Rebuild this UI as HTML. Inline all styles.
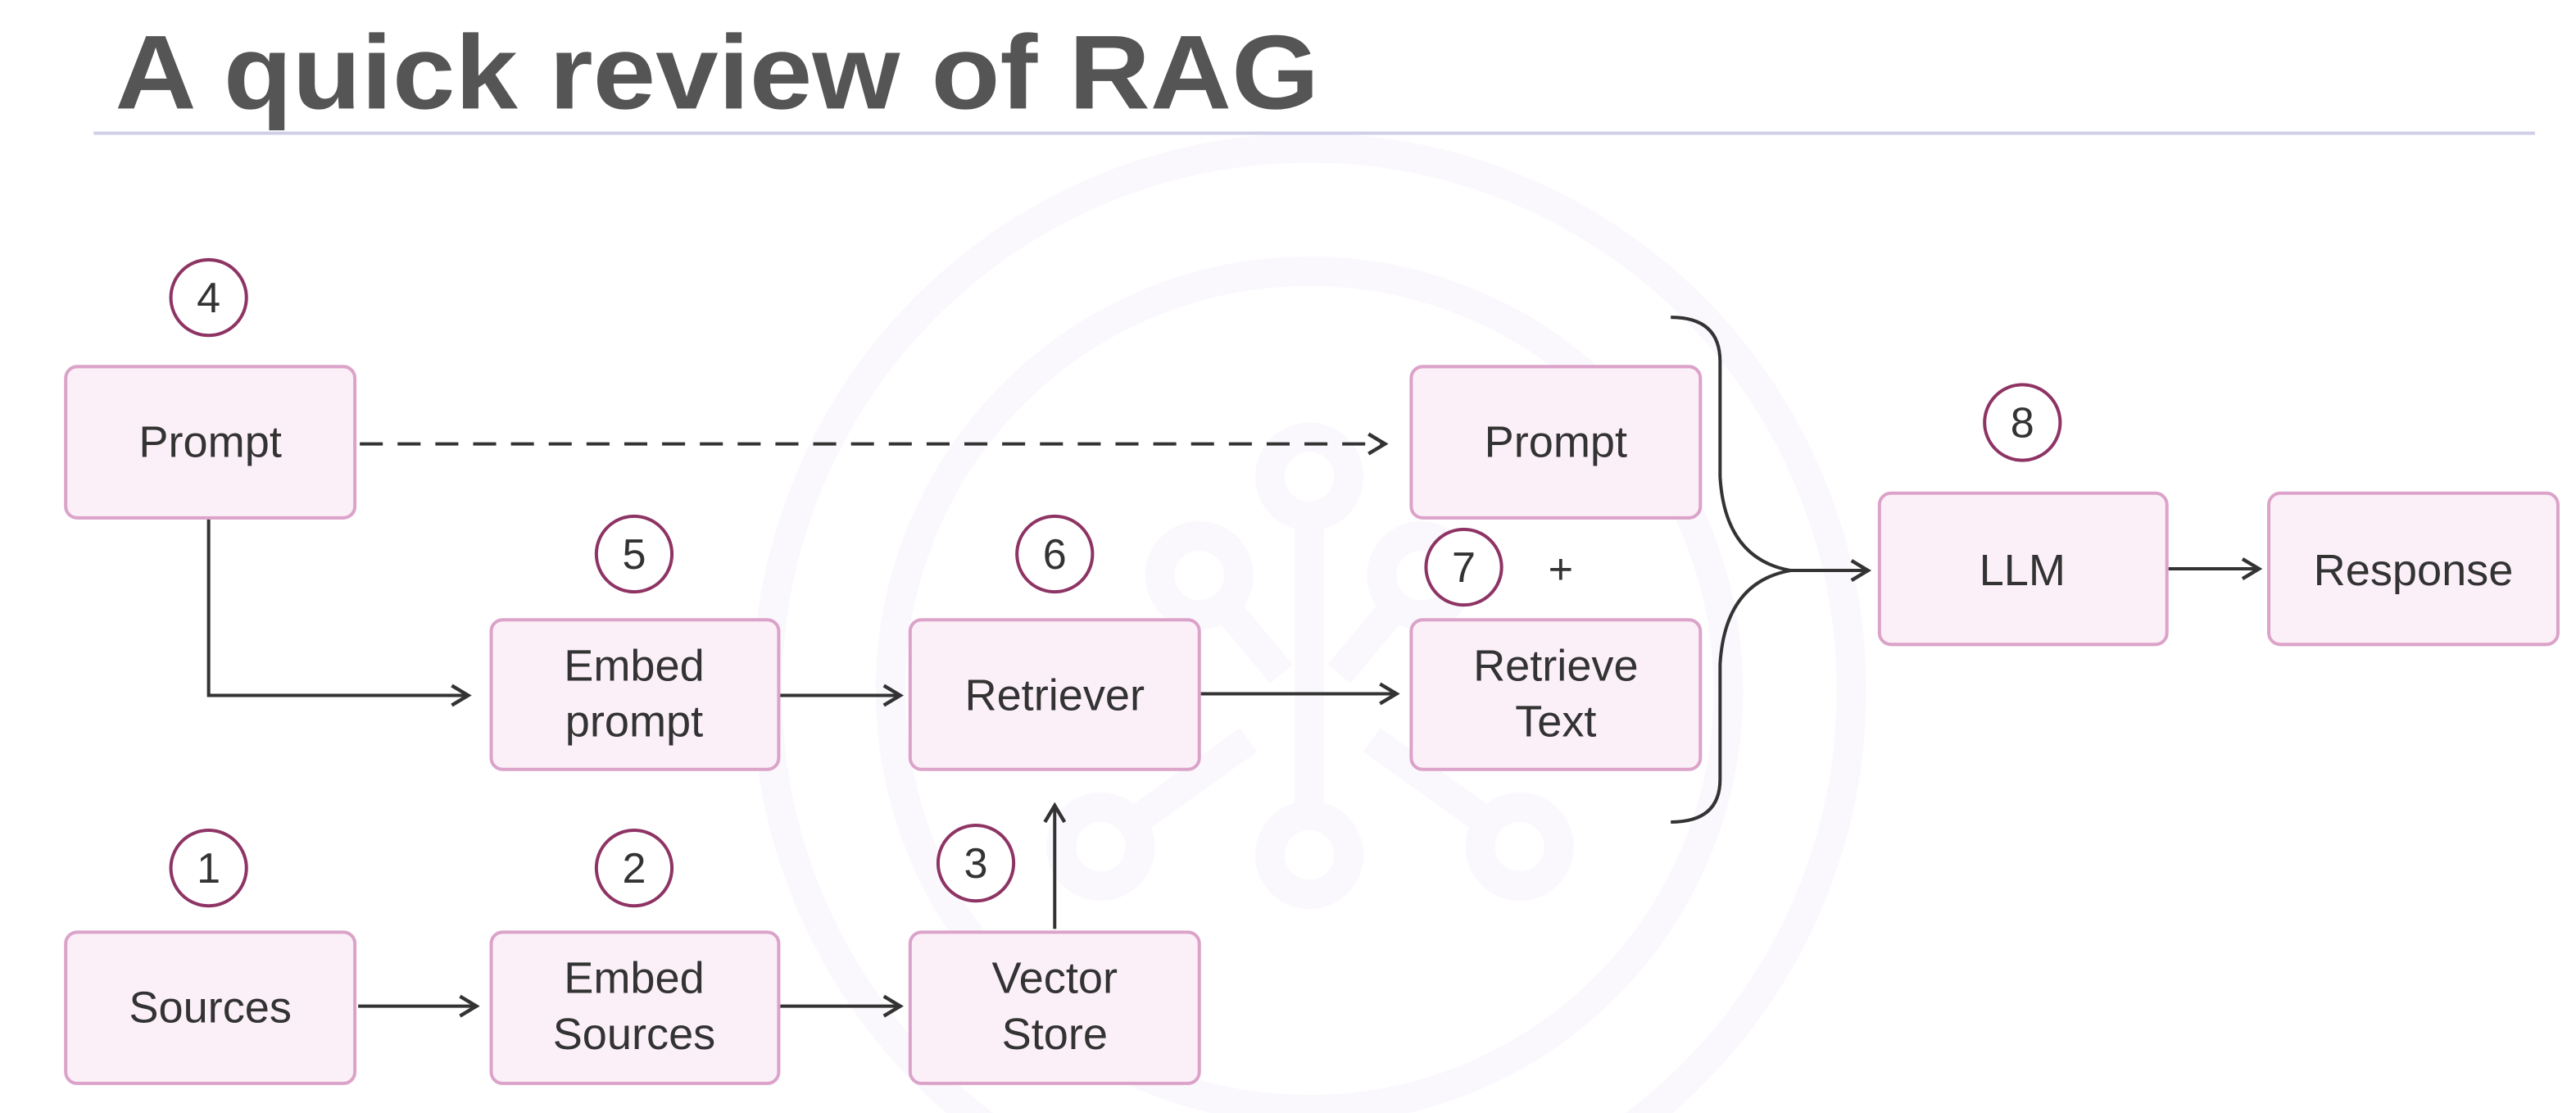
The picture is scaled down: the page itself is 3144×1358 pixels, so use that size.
<!DOCTYPE html>
<html><head><meta charset="utf-8"><style>
html,body{margin:0;padding:0;background:#fff;overflow:hidden;width:3144px;height:1358px;}
svg{display:block;}
text{font-family:"Liberation Sans",sans-serif;}
</style></head><body>
<svg width="3144" height="1358" viewBox="0 0 1568 677" preserveAspectRatio="none" xmlns="http://www.w3.org/2000/svg">
<defs>
<marker id="ah" markerWidth="14" markerHeight="14" refX="12" refY="7" orient="auto" markerUnits="userSpaceOnUse">
<path d="M2,1 L12,7 L2,13" fill="none" stroke="#333" stroke-width="2.2"/>
</marker>
</defs>
<rect width="1568" height="677" fill="#fff"/>
<g fill="none" stroke="#faf8fd" stroke-width="18">
<circle cx="797" cy="420" r="330"/>
<circle cx="797" cy="420" r="255"/>
<circle cx="797" cy="290" r="24"/>
<circle cx="730" cy="350" r="24"/>
<circle cx="865" cy="350" r="24"/>
<circle cx="670" cy="515" r="24"/>
<circle cx="797" cy="520" r="24"/>
<circle cx="925" cy="515" r="24"/>
<path d="M797,314 V496 M745,368 L780,410 M850,368 L815,410 M690,500 L760,450 M905,500 L835,450"/>
</g>
<text x="70" y="66" font-size="64" font-weight="bold" fill="#555" textLength="733" lengthAdjust="spacingAndGlyphs">A quick review of RAG</text>
<line x1="57" y1="81" x2="1543" y2="81" stroke="#cfcde8" stroke-width="2"/>
<g fill="#fcf0f8" stroke="#dba3c9" stroke-width="2">
<rect x="40" y="223" width="176" height="92" rx="7"/>
<rect x="859" y="223" width="176" height="92" rx="7"/>
<rect x="299" y="377" width="175" height="91" rx="7"/>
<rect x="554" y="377" width="176" height="91" rx="7"/>
<rect x="859" y="377" width="176" height="91" rx="7"/>
<rect x="1144" y="300" width="175" height="92" rx="7"/>
<rect x="1381" y="300" width="176" height="92" rx="7"/>
<rect x="40" y="567" width="176" height="92" rx="7"/>
<rect x="299" y="567" width="175" height="92" rx="7"/>
<rect x="554" y="567" width="176" height="92" rx="7"/>
</g>
<g font-size="27" fill="#333" text-anchor="middle">
<text x="128" y="278">Prompt</text>
<text x="947" y="278">Prompt</text>
<text x="386" y="414">Embed</text><text x="386" y="448">prompt</text>
<text x="642" y="432">Retriever</text>
<text x="947" y="414">Retrieve</text><text x="947" y="448">Text</text>
<text x="1231" y="356">LLM</text>
<text x="1469" y="356">Response</text>
<text x="128" y="622">Sources</text>
<text x="386" y="604">Embed</text><text x="386" y="638">Sources</text>
<text x="642" y="604">Vector</text><text x="642" y="638">Store</text>
</g>
<g fill="#fff" stroke="#8e3465" stroke-width="2">
<circle cx="127" cy="181" r="23"/>
<circle cx="386" cy="337" r="23"/>
<circle cx="642" cy="337" r="23"/>
<circle cx="891" cy="345" r="23"/>
<circle cx="1231" cy="257" r="23"/>
<circle cx="127" cy="528" r="23"/>
<circle cx="386" cy="528" r="23"/>
<circle cx="594" cy="525" r="23"/>
</g>
<g font-size="26" fill="#333" text-anchor="middle">
<text x="127" y="190">4</text>
<text x="386" y="346">5</text>
<text x="642" y="346">6</text>
<text x="891" y="354">7</text>
<text x="1231" y="266">8</text>
<text x="127" y="537">1</text>
<text x="386" y="537">2</text>
<text x="594" y="534">3</text>
<text x="950" y="355">+</text>
</g>
<g fill="none" stroke="#333" stroke-width="2">
<line x1="219" y1="270" x2="843" y2="270" stroke-dasharray="14,9" marker-end="url(#ah)"/>
<polyline points="127,316 127,423 285,423" marker-end="url(#ah)"/>
<line x1="475" y1="423" x2="548" y2="423" marker-end="url(#ah)"/>
<line x1="731" y1="422" x2="850" y2="422" marker-end="url(#ah)"/>
<line x1="218" y1="612" x2="290" y2="612" marker-end="url(#ah)"/>
<line x1="475" y1="612" x2="548" y2="612" marker-end="url(#ah)"/>
<line x1="642" y1="565" x2="642" y2="490" marker-end="url(#ah)"/>
<path d="M1017,193 Q1047,193 1047,220 L1047,290 Q1050,340 1090,347 Q1050,354 1047,404 L1047,474 Q1047,500 1017,500"/>
<line x1="1090" y1="347" x2="1137" y2="347" marker-end="url(#ah)"/>
<line x1="1320" y1="346" x2="1375" y2="346" marker-end="url(#ah)"/>
</g>
</svg>
</body></html>
